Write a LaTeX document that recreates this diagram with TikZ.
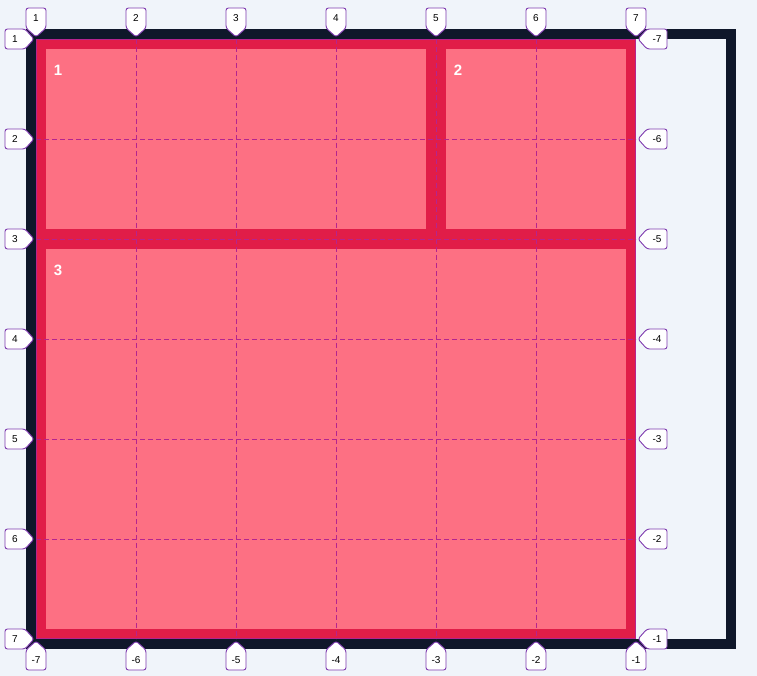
\documentclass[tikz,border=0pt]{standalone}
\usepackage{fontspec}
\setmainfont{Liberation Sans}
\definecolor{bgc}{HTML}{F0F4FA}
\definecolor{framec}{HTML}{0F172A}
\definecolor{itemborder}{HTML}{E11D48}
\definecolor{itemfill}{HTML}{FD7083}
\definecolor{gridc}{HTML}{B5248F}
\definecolor{tagc}{HTML}{7E3AAF}
\tikzset{
  framebox/.style={draw=framec, line width=10pt},
  itembox/.style={draw=itemborder, fill=itemfill, line width=10pt},
  gridline/.style={draw=gridc, line width=0.9pt, dash pattern=on 5pt off 3pt},
  edgeline/.style={draw=gridc, line width=0.8pt},
  tagbox/.style={draw=tagc, fill=white, line width=0.9pt, rounded corners=2.5pt},
  tagtext/.style={font=\fontsize{10}{12}\selectfont, text=black, inner sep=0pt},
  itemnum/.style={font=\fontsize{15}{18}\selectfont\bfseries, text=white, inner sep=0pt}
}
\begin{document}
\begin{tikzpicture}[x=1pt,y=-1pt]
\useasboundingbox (0,0) rectangle (757,676);
\fill[bgc] (0,0) rectangle (757,676);
% container
\draw[framebox] (31,34) rectangle (731,644);
% items
\draw[itembox] (41,44) rectangle (431,234);
\draw[itembox] (441,44) rectangle (631,234);
\draw[itembox] (41,244) rectangle (631,634);
\node[itemnum] (n1) at (58,70) {1};
\node[itemnum] (n2) at (458,70) {2};
\node[itemnum] (n3) at (58,270) {3};
% grid lines
\foreach \k [evaluate=\k as \X using 36+100*\k, evaluate=\k as \Y using 39+100*\k] in {1,...,5} {
  \draw[gridline] (\X,39) -- (\X,639);
  \draw[gridline] (36,\Y) -- (636,\Y);
}
\draw[edgeline] (36.5,39.5) rectangle (635.5,638.5);
% top tags
\foreach \k [evaluate=\k as \X using 36+100*\k, evaluate=\k as \n using int(\k+1)] in {0,...,6} {
  \draw[tagbox] (\X,37) -- ({\X-10},28) -- ({\X-10},8) -- ({\X+10},8) -- ({\X+10},28) -- cycle;
  \node[tagtext] (top\n) at (\X,18) {\n};
}
% left tags
\foreach \k [evaluate=\k as \Y using 39+100*\k, evaluate=\k as \n using int(\k+1)] in {0,...,6} {
  \draw[tagbox] (34,\Y) -- (25,{\Y-10}) -- (5,{\Y-10}) -- (5,{\Y+10}) -- (25,{\Y+10}) -- cycle;
  \node[tagtext] (left\n) at (15,\Y) {\n};
}
% right tags
\foreach \k [evaluate=\k as \Y using 39+100*\k, evaluate=\k as \n using int(\k-7), evaluate=\k as \i using int(\k+1)] in {0,...,6} {
  \draw[tagbox] (638,\Y) -- (647,{\Y-10}) -- (667,{\Y-10}) -- (667,{\Y+10}) -- (647,{\Y+10}) -- cycle;
  \node[tagtext] (right\i) at (657,\Y) {\n};
}
% bottom tags
\foreach \k [evaluate=\k as \X using 36+100*\k, evaluate=\k as \n using int(\k-7), evaluate=\k as \i using int(\k+1)] in {0,...,6} {
  \draw[tagbox] (\X,641) -- ({\X-10},650) -- ({\X-10},670) -- ({\X+10},670) -- ({\X+10},650) -- cycle;
  \node[tagtext] (bottom\i) at (\X,660) {\n};
}
\end{tikzpicture}
\end{document}
